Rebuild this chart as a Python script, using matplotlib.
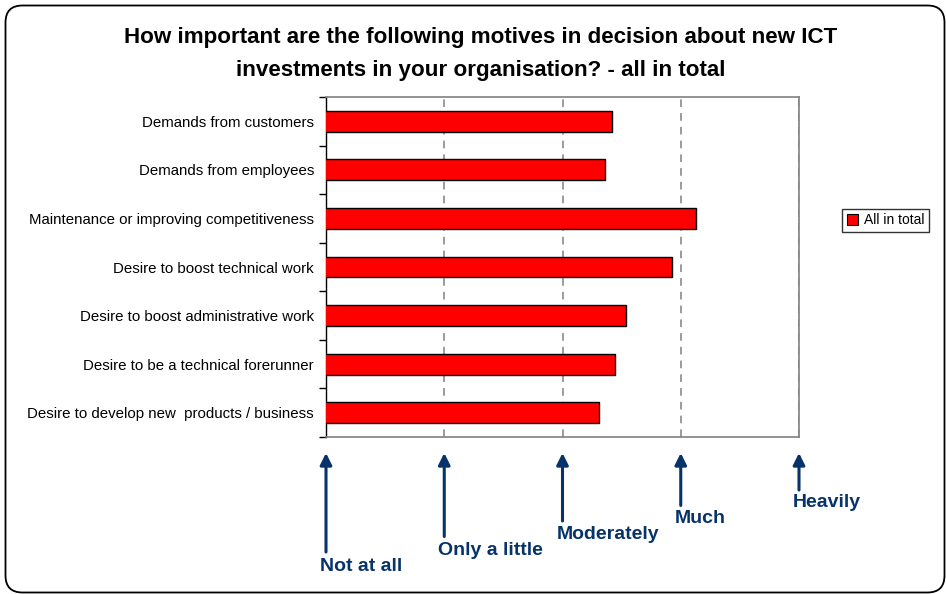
import matplotlib
matplotlib.use('Agg')
import matplotlib.pyplot as plt
from matplotlib.patches import FancyBboxPatch, Patch
import numpy as np

plt.rcParams['font.family'] = ['Liberation Sans', 'DejaVu Sans']

# data (scale 1 = not at all ... 5 = heavily)
motives = ['Demands from customers',
           'Demands from employees',
           'Maintenance or improving competitiveness',
           'Desire to boost technical work',
           'Desire to boost administrative work',
           'Desire to be a technical forerunner',
           'Desire to develop new  products / business']
all_in_total = [3.42, 3.36, 4.13, 3.93, 3.54, 3.44, 3.31]

level_names = ['Not at all', 'Only a little', 'Moderately', 'Much', 'Heavily']
level_values = [1, 2, 3, 4, 5]

W, H = 946, 594
fig = plt.figure(figsize=(W / 100, H / 100), dpi=100)

# rounded outer frame
bg = fig.add_axes([0, 0, 1, 1], zorder=-1)
bg.set_xlim(0, W)
bg.set_ylim(H, 0)
bg.axis('off')
bg.add_patch(FancyBboxPatch((5.5, 5.5), 939, 587,
                            boxstyle='round,pad=0,rounding_size=17',
                            fc='white', ec='black', lw=1.3))

ax = fig.add_axes([326 / W, 1 - 437 / H, 473 / W, 340 / H])
y = np.arange(len(motives))
ax.barh(y, all_in_total, left=0, height=0.43, color='#ff0000',
        edgecolor='black', linewidth=1, zorder=3, label='All in total')
ax.set_xlim(1, 5)
ax.set_ylim(len(motives) - 0.5, -0.5)

ax.set_xticks(level_values[1:])
ax.tick_params(axis='x', length=0, labelbottom=False)
ax.grid(axis='x', color='#808080', linestyle=(0, (5, 4)), linewidth=1.1, zorder=1)

ax.set_yticks(y)
ax.set_yticklabels(motives, fontsize=10.8)
ax.set_yticks(np.arange(len(motives) + 1) - 0.5, minor=True)
ax.tick_params(axis='y', which='major', length=0, pad=8.6)
ax.tick_params(axis='y', which='minor', length=5, width=1, direction='out')

for side in ['top', 'right', 'bottom']:
    ax.spines[side].set_color('#808080')
    ax.spines[side].set_linewidth(1.2)
ax.spines['left'].set_color('black')
ax.spines['left'].set_linewidth(1)

fig.text(481 / W, 1 - 54 / H,
         'How important are the following motives in decision about new ICT\n'
         'investments in your organisation? - all in total',
         ha='center', va='center', fontsize=16.1, fontweight='bold',
         linespacing=1.72)

leg = fig.legend(handles=[Patch(fc='#ff0000', ec='black', lw=0.8, label='All in total')],
                 loc='center left', bbox_to_anchor=(842 / W, 1 - 220.5 / H),
                 fontsize=10, frameon=True, fancybox=False, borderpad=0.35,
                 handlelength=0.8, handleheight=0.8, handletextpad=0.4,
                 borderaxespad=0)
leg.get_frame().set_edgecolor('black')
leg.get_frame().set_linewidth(1)

# importance scale arrows under the axis
navy = '#06336a'
for i, (name, val) in enumerate(zip(level_names, level_values)):
    y_bottom = 552 - 15.5 * i
    ax.annotate('', xy=(val, H - 453), xytext=(val, H - y_bottom),
                xycoords=('data', 'figure pixels'),
                textcoords=('data', 'figure pixels'),
                arrowprops=dict(arrowstyle='-|>,head_length=0.7,head_width=0.35',
                                color=navy, lw=2.2, mutation_scale=10,
                                shrinkA=0, shrinkB=0),
                annotation_clip=False)
    ax.annotate(name, xy=(val, H - (571 - 16 * i)),
                xycoords=('data', 'figure pixels'),
                xytext=(-6, 0), textcoords='offset pixels',
                ha='left', va='baseline', fontsize=14, fontweight='bold',
                color=navy, annotation_clip=False)

fig.savefig('out.png', dpi=100)
